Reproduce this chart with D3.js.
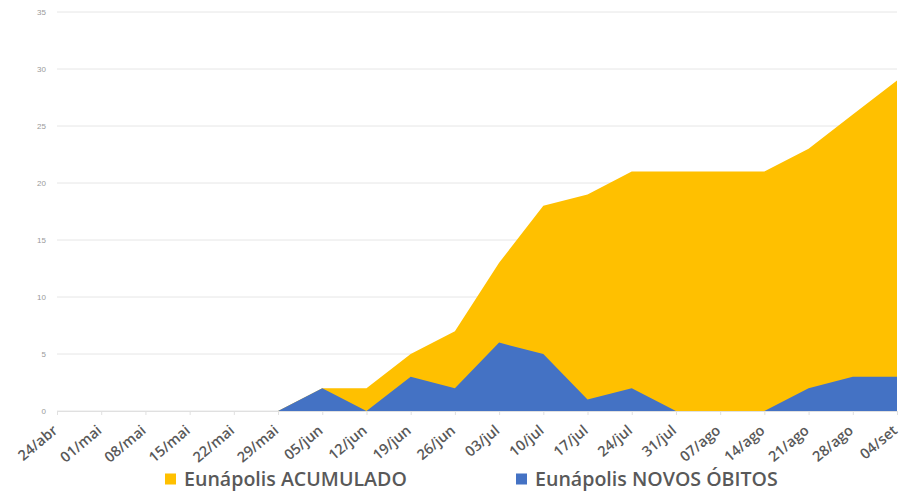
<!DOCTYPE html>
<html>
<head>
<meta charset="utf-8">
<script src="https://cdn.jsdelivr.net/npm/d3@7"></script>
<style>
  html, body { margin: 0; padding: 0; background: #fff; }
  svg { display: block; }
</style>
</head>
<body>
<svg id="chart" width="900" height="494"></svg>
<script>
// Weekly dates (day/month)
const categories = ["24/abr","01/mai","08/mai","15/mai","22/mai","29/mai","05/jun","12/jun","19/jun","26/jun",
                    "03/jul","10/jul","17/jul","24/jul","31/jul","07/ago","14/ago","21/ago","28/ago","04/set"];
// Cumulative deaths
const acumulado = [0,0,0,0,0,0,2,2,5,7,13,18,19,21,21,21,21,23,26,29];
// New deaths per week
const novosObitos = [0,0,0,0,0,0,2,0,3,2,6,5,1,2,0,0,0,2,3,3];
const yTicks = [0,5,10,15,20,25,30,35];
const seriesNames = ["Eunápolis ACUMULADO", "Eunápolis NOVOS ÓBITOS"];
const seriesColors = ["#FFC000", "#4472C4"];

const svg = d3.select("#chart");
const margin = { left: 57, right: 3, top: 12, bottom: 83 };
const W = 900, H = 494;

const x = d3.scalePoint().domain(categories).range([margin.left, W - margin.right]);
const y = d3.scaleLinear().domain([0, 35]).range([H - margin.bottom, margin.top]);

// Horizontal gridlines
svg.append("g")
  .selectAll("line")
  .data(yTicks)
  .join("line")
  .attr("x1", margin.left).attr("x2", W - margin.right)
  .attr("y1", d => y(d)).attr("y2", d => y(d))
  .attr("stroke", "#e6e6e6").attr("stroke-width", 1);

// Y axis labels
const yAxis = d3.axisLeft(y).tickValues(yTicks).tickSize(0).tickPadding(11);
svg.append("g")
  .attr("transform", `translate(${margin.left},0)`)
  .call(yAxis)
  .call(g => g.select(".domain").remove())
  .call(g => g.selectAll("text")
    .attr("fill", "#9a9a9a")
    .style("font-family", "Liberation Sans, Arial, sans-serif")
    .style("font-size", "8px"));

// Areas: cumulative behind, new deaths in front
const area = vals => d3.area()
  .x((d, i) => x(categories[i]))
  .y0(y(0))
  .y1(d => y(d))(vals);

svg.append("path")
  .attr("d", area(acumulado))
  .attr("fill", seriesColors[0]);

svg.append("path")
  .attr("d", area(novosObitos))
  .attr("fill", seriesColors[1]);

// X axis
const xAxis = d3.axisBottom(x).tickSize(4).tickSizeOuter(0).tickPadding(4);
svg.append("g")
  .attr("transform", `translate(0,${y(0)})`)
  .call(xAxis)
  .call(g => g.select(".domain").attr("stroke", "#e0e0e0"))
  .call(g => g.selectAll(".tick line").attr("stroke", "#e0e0e0"))
  .call(g => g.selectAll("text")
    .attr("fill", "#595959")
    .attr("y", 0)
    .attr("dy", 0)
    .style("font-family", "Open Sans, sans-serif")
    .style("font-weight", "600")
    .style("font-size", "14.5px")
    .attr("text-anchor", "end")
    .attr("transform", "translate(1,21) rotate(-40)"));

// Legend
const legend = svg.append("g");
const legendX = [165, 516];
seriesNames.forEach((name, i) => {
  const g = legend.append("g").attr("transform", `translate(${legendX[i]},479)`);
  g.append("rect").attr("x", 0).attr("y", -5.5).attr("width", 11).attr("height", 11)
    .attr("fill", seriesColors[i]);
  g.append("text").attr("x", 19).attr("y", 0).attr("dy", "0.36em")
    .attr("fill", "#595959")
    .style("font-family", "Open Sans, sans-serif")
    .style("font-weight", "600")
    .style("font-size", "19.6px")
    .text(name);
});
</script>
</body>
</html>
